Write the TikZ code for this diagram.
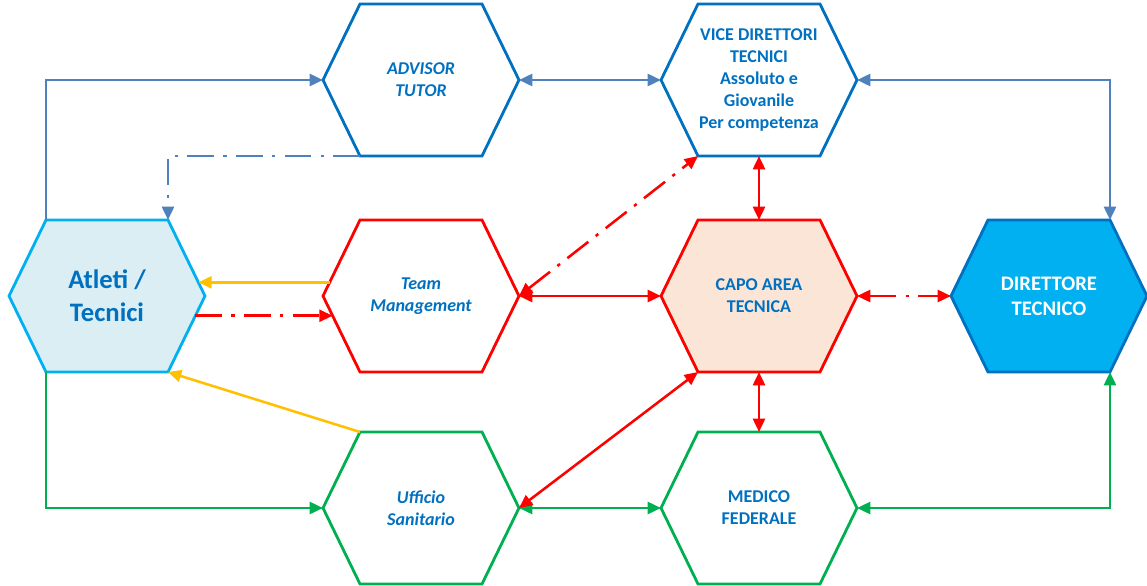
\documentclass[tikz,border=0pt]{standalone}
\usepackage{fontspec}
\setmainfont{Carlito}
\usetikzlibrary{arrows.meta, calc}

\definecolor{hexblue}{HTML}{0070C0}
\definecolor{lineblue}{HTML}{4F81BD}
\definecolor{skyblue}{HTML}{00B0F0}
\definecolor{paleblue}{HTML}{DAEEF3}
\definecolor{peach}{HTML}{FBE5D6}
\definecolor{ambra}{HTML}{FFC000}
\definecolor{verde}{HTML}{00B050}
\definecolor{rosso}{HTML}{FF0000}

\tikzset{
  hexline/.style={line width=2.1pt},
  hextext/.style={align=center, text=hexblue, font=\bfseries\fontsize{13.5}{16.5}\selectfont},
  conn/.style={line width=1.9pt, >={Triangle[length=10pt,width=9pt]}},
  mixline/.style={dash pattern=on 20pt off 7pt on 2.5pt off 7pt},
}

% [text style] name, centre, hexagon style, label
\newcommand{\hexnode}[5][]{%
  \draw[hexline,#4] (#3) ++(-98,0) coordinate (#2-w)
    -- ++(37,-76) coordinate (#2-nw) -- ++(122,0) coordinate (#2-ne)
    -- ++(37,76) coordinate (#2-e) -- ++(-37,76) coordinate (#2-se)
    -- ++(-122,0) coordinate (#2-sw) -- cycle;
  \node[hextext,#1] (#2) at (#3) {#5};
  \coordinate (#2-n) at ($(#2)+(0,-76)$);
  \coordinate (#2-s) at ($(#2)+(0,76)$);
}

\begin{document}
\begin{tikzpicture}[x=0.75pt, y=-0.75pt]
    \useasboundingbox (0,0) rectangle (1147,586);

    % hexagons
    \hexnode[font=\bfseries\itshape\fontsize{13.5}{16.5}\selectfont]{advisor}{421,80}{draw=hexblue}{ADVISOR\\ TUTOR}
    \hexnode{vice}{759,80}{draw=hexblue}{VICE DIRETTORI\\ TECNICI\\ Assoluto e\\ Giovanile\\ Per competenza}
    \hexnode[font=\bfseries\fontsize{20}{25}\selectfont]{atleti}{107,296}{draw=skyblue, fill=paleblue}{Atleti /\\ Tecnici}
    \hexnode[font=\bfseries\itshape\fontsize{13.5}{16.5}\selectfont]{team}{421,296}{draw=rosso}{Team\\ Management}
    \hexnode{capo}{759,296}{draw=rosso, fill=peach}{CAPO AREA\\ TECNICA}
    \hexnode[text=white, font=\bfseries\fontsize{15.5}{19}\selectfont]{direttore}{1049,296}{draw=hexblue, fill=skyblue}{DIRETTORE\\ TECNICO}
    \hexnode[font=\bfseries\itshape\fontsize{13.5}{16.5}\selectfont]{ufficio}{421,508}{draw=verde}{Ufficio\\ Sanitario}
    \hexnode{medico}{759,508}{draw=verde}{MEDICO\\ FEDERALE}

    % blue links
    \draw[conn, lineblue, ->] (atleti-nw) |- (advisor-w);
    \draw[conn, lineblue, <->] (advisor-e) -- (vice-w);
    \draw[conn, lineblue, <->] (vice-e) -| (direttore-ne);
    \draw[conn, lineblue, mixline, ->] (advisor-sw) -| (atleti-ne);

    % yellow links
    \draw[conn, ambra, ->] ($(team-w)!0.18!(team-nw)$) -- ($(atleti-e)!0.18!(atleti-ne)$);
    \draw[conn, ambra, ->] (ufficio-nw) -- (atleti-se);

    % green links
    \draw[conn, verde, ->] (atleti-sw) |- (ufficio-w);
    \draw[conn, verde, <->] (ufficio-e) -- (medico-w);
    \draw[conn, verde, <->] (medico-e) -| (direttore-se);

    % red links
    \draw[conn, rosso, mixline, ->] ($(atleti-e)!0.26!(atleti-se)$) -- ($(team-w)!0.26!(team-sw)$);
    \draw[conn, rosso, <->] (team-e) -- (capo-w);
    \draw[conn, rosso, mixline, <->] (team-e) -- (vice-sw);
    \draw[conn, rosso, <->] (vice-s) -- (capo-n);
    \draw[conn, rosso, <->] (capo-s) -- (medico-n);
    \draw[conn, rosso, <->] (capo-sw) -- (ufficio-e);
    \draw[conn, rosso, mixline, <->] (capo-e) -- (direttore-w);
\end{tikzpicture}
\end{document}
